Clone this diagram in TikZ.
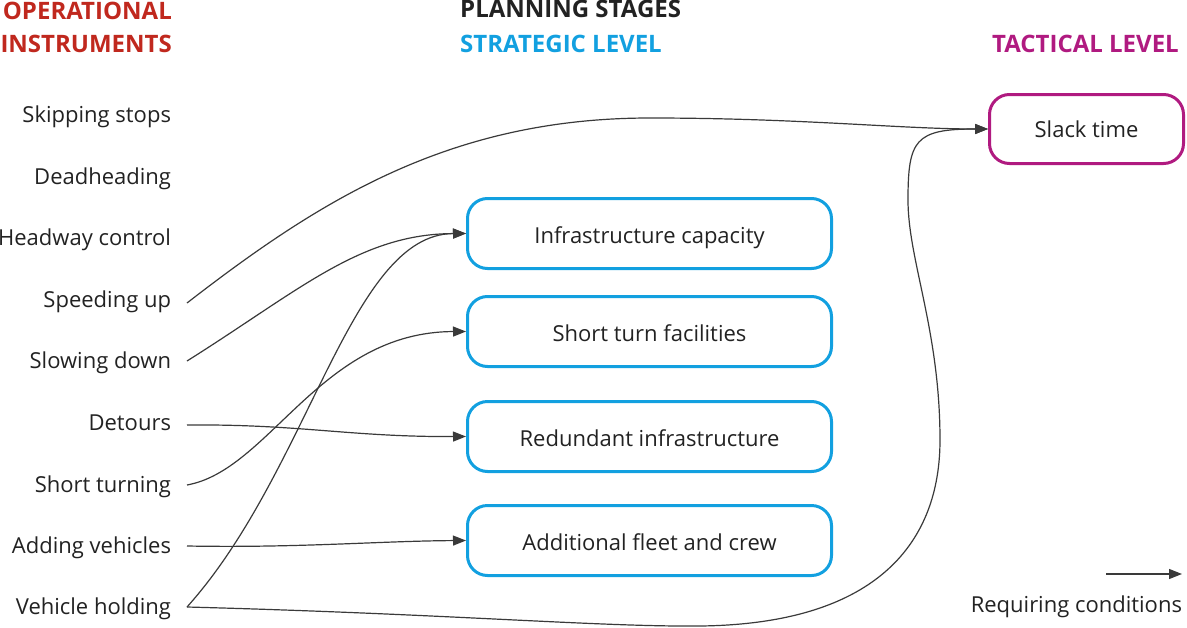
\documentclass[tikz,border=0pt]{standalone}
\usepackage{fontspec}
\setmainfont{Open Sans}
\usetikzlibrary{arrows.meta}
\definecolor{opred}{HTML}{C0281E}
\definecolor{stblue}{HTML}{12A0E0}
\definecolor{tcmag}{HTML}{B01A80}
\definecolor{ink}{HTML}{222222}
\definecolor{wire}{HTML}{3A3A3A}
\begin{document}
\begin{tikzpicture}[x=1pt,y=-1pt,
  lbl/.style={anchor=base east, inner sep=0pt, outer xsep=16pt, font=\fontsize{22}{26}\selectfont, text=ink},
  head/.style={inner sep=0pt, font=\fontsize{24}{28}\selectfont\bfseries},
  stratbox/.style={draw=stblue, line width=3pt, rounded corners=20pt, minimum width=364pt, minimum height=70pt, inner sep=0pt, text height=19pt, text depth=0pt, font=\fontsize{22}{26}\selectfont, text=ink},
  tactbox/.style={draw=tcmag, line width=3pt, rounded corners=20pt, minimum width=194pt, minimum height=69pt, inner sep=0pt, text height=17pt, text depth=0pt, font=\fontsize{22}{26}\selectfont, text=ink},
  conn/.style={draw=wire, line width=1.2pt, -{Triangle[length=13pt,width=10pt]}}
]
\useasboundingbox (0,0) rectangle (1187,627);
% headings
\node[head, text=opred, anchor=base east] (h1) at (172,19) {OPERATIONAL};
\node[head, text=opred, anchor=base east] (h2) at (172,52) {INSTRUMENTS};
\node[head, text=ink, anchor=base west] (h3) at (460,17) {PLANNING STAGES};
\node[head, text=stblue, anchor=base west] (h4) at (460,52) {STRATEGIC LEVEL};
\node[head, text=tcmag, anchor=base east] (h5) at (1179,52) {TACTICAL LEVEL};
% left labels
\node[lbl] (ss) at (187,122) {Skipping stops};
\node[lbl] (dh) at (187,184) {Deadheading};
\node[lbl] (hc) at (187,245) {Headway control};
\node[lbl] (sp) at (187,307) {Speeding up};
\node[lbl] (sd) at (187,368) {Slowing down};
\node[lbl] (dt) at (187,430) {Detours};
\node[lbl] (st) at (187,492) {Short turning};
\node[lbl] (av) at (187,553) {Adding vehicles};
\node[lbl] (vh) at (187,614) {Vehicle holding};
% boxes
\node[stratbox] (ic) at (649.5,233.5) {Infrastructure capacity};
\node[stratbox] (stf) at (649.5,331.5) {Short turn facilities};
\node[stratbox] (ri) at (649.5,436.5) {Redundant infrastructure};
\node[stratbox] (af) at (649.5,540.5) {Additional fleet and crew};
\node[tactbox] (slack) at (1086.5,129) {Slack time};
% connectors
\draw[conn] ([yshift=4pt]sp.base east) .. controls (320,200) and (450,118) .. (650,118) .. controls (800,118) and (900,129) .. (slack.west);
\draw[conn] ([yshift=7pt]sd.base east) .. controls (300,290) and (360,234) .. (ic.west);
\draw[conn] ([yshift=7pt]vh.base east) .. controls (310,470) and (350,234) .. (ic.west);
\draw[conn] ([yshift=7pt]st.base east) .. controls (270,470) and (320,332) .. (stf.west);
\draw[conn] ([yshift=5pt]dt.base east) .. controls (300,424) and (350,437) .. (ri.west);
\draw[conn] ([yshift=7pt]av.base east) .. controls (300,548) and (380,541) .. (af.west);
\draw[conn] ([yshift=7pt]vh.base east) .. controls (450,614) and (600,627) .. (700,626) .. controls (880,624) and (940,540) .. (940,440) .. controls (940,330) and (908,260) .. (908,200) .. controls (908,140) and (915,129) .. (slack.west);
% legend
\coordinate (lg1) at (1106,574);
\coordinate (lg2) at (1182,574);
\draw[conn] (lg1) -- (lg2);
\node[lbl, outer xsep=0pt] (lgt) at (1182,612) {Requiring conditions};
\end{tikzpicture}
\end{document}
